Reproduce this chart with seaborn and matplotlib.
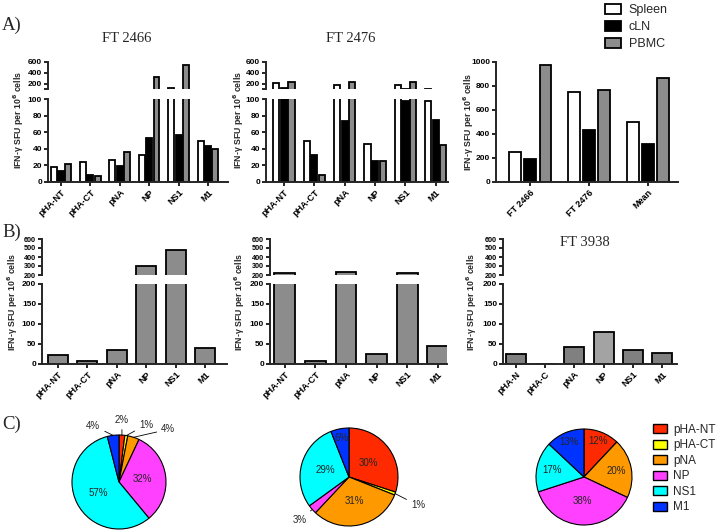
import numpy as np
import pandas as pd
import matplotlib
matplotlib.use('Agg')
import matplotlib.pyplot as plt
import seaborn as sns
from matplotlib.patches import Patch

# ---- data ----
antigens = ['pHA-NT', 'pHA-CT', 'pNA', 'NP', 'NS1', 'M1']
tissues = ['Spleen', 'cLN', 'PBMC']

# A) FT 2466
ft2466_spleen = [18, 24, 26, 32, 110, 50]
ft2466_cln = [13, 8, 19, 53, 57, 43]
ft2466_pbmc = [22, 7, 36, 330, 550, 40]

# A) FT 2476
ft2476_spleen = [210, 49, 180, 46, 180, 98]
ft2476_cln = [120, 32, 73, 25, 98, 75]
ft2476_pbmc = [230, 8, 230, 25, 230, 45]

# A) totals
summary_groups = ['FT 2466', 'FT 2476', 'Mean']
summary_spleen = [250, 750, 500]
summary_cln = [195, 435, 315]
summary_pbmc = [975, 765, 870]

# B) PBMC only
b1_pbmc = [22, 7, 36, 300, 480, 40]
b2_pbmc = [225, 8, 235, 25, 220, 45]
ft3938_antigens = ['pHA-N', 'pHA-C', 'pNA', 'NP', 'NS1', 'M1']
ft3938_pbmc = [24, 0, 43, 80, 36, 27]

# C) pie percentages
pie1_pct = [2, 1, 4, 32, 57, 4]
pie2_pct = [30, 1, 31, 3, 29, 6]
pie3_pct = [12, 0, 20, 38, 17, 13]

tissue_colors = ['white', 'black', '#8c8c8c']
pie_colors = ['#ff2a00', '#ffff00', '#ff9900', '#ff40ff', '#00ffff', '#0033ff']

sns.set_style('ticks')
plt.rcParams['font.family'] = ['Liberation Sans', 'DejaVu Sans']
plt.rcParams['mathtext.default'] = 'bf'

W, H = 720, 530
fig = plt.figure(figsize=(7.2, 5.3), dpi=100)
YLABEL = 'IFN-γ SFU per 10$^{6}$ cells'
SERIF = 'Liberation Serif'


def add_px_axes(x0, y0, x1, y1):
    return fig.add_axes([x0 / W, (H - y1) / H, (x1 - x0) / W, (y1 - y0) / H])


def style_axis(ax, bottom=True):
    sns.despine(ax=ax, bottom=not bottom)
    for s in ['left', 'bottom']:
        ax.spines[s].set_linewidth(1.4)
    ax.tick_params(axis='both', direction='out', length=3, width=1.2, pad=1.2,
                   colors='black')
    ax.set_xlabel('')
    ax.set_ylabel('')
    ax.set_facecolor('none')


def long_df(values, cats):
    return pd.DataFrame({
        'antigen': cats * 3,
        'tissue': np.repeat(tissues, len(cats)),
        'sfu': list(values[0]) + list(values[1]) + list(values[2]),
    })


def grouped_plot(df, cats, width, gap):
    def _plot(ax):
        sns.barplot(data=df, x='antigen', y='sfu', hue='tissue', order=cats,
                    hue_order=tissues, palette=tissue_colors, width=width, gap=gap,
                    edgecolor='black', linewidth=1.3, errorbar=None, legend=False,
                    ax=ax)
    return _plot


def single_plot(df, cats, colors, width):
    def _plot(ax):
        sns.barplot(data=df, x='antigen', y='sfu', hue='antigen', order=cats,
                    hue_order=cats, palette=colors, width=width,
                    edgecolor='black', linewidth=1.3, errorbar=None, legend=False,
                    ax=ax)
    return _plot


def set_xcats(ax, labels, xlim):
    ax.set_xlim(xlim)
    ax.set_xticks(range(len(labels)), labels, rotation=45, ha='right',
                  rotation_mode='anchor', fontsize=6.5, fontweight='bold')


def broken_panel(xs, hi_box, lo_box, plot, lo_lim, lo_ticks, hi_lim, hi_ticks,
                 xlim, labels, hi_size=6, hide_first=True):
    ax_hi = add_px_axes(xs[0], hi_box[0], xs[1], hi_box[1])
    ax_lo = add_px_axes(xs[0], lo_box[0], xs[1], lo_box[1])
    plot(ax_hi)
    plot(ax_lo)
    style_axis(ax_hi, bottom=False)
    style_axis(ax_lo)
    hi_labels = [str(t) for t in hi_ticks]
    if hide_first:
        hi_labels[0] = ''
    ax_hi.set_ylim(hi_lim)
    ax_hi.set_yticks(hi_ticks, hi_labels, fontsize=hi_size, fontweight='bold')
    ax_hi.set_xlim(xlim)
    ax_hi.set_xticks([])
    ax_lo.set_ylim(lo_lim)
    ax_lo.set_yticks(lo_ticks, [str(t) for t in lo_ticks], fontsize=6,
                     fontweight='bold')
    set_xcats(ax_lo, labels, xlim)
    return ax_hi, ax_lo


# ---------------- row A ----------------
df_2466 = long_df([ft2466_spleen, ft2466_cln, ft2466_pbmc], antigens)
df_2476 = long_df([ft2476_spleen, ft2476_cln, ft2476_pbmc], antigens)

broken_panel((48, 228), (62, 89), (99, 182), grouped_plot(df_2466, antigens, 0.75, 0.2),
             (0, 100), [0, 20, 40, 60, 80, 100], (100, 600), [100, 200, 400, 600],
             (-0.44, 5.68), antigens)
broken_panel((266, 448), (62, 89), (99, 182), grouped_plot(df_2476, antigens, 0.75, 0.2),
             (0, 100), [0, 20, 40, 60, 80, 100], (100, 600), [100, 200, 400, 600],
             (-0.59, 5.4), antigens)

df_sum = long_df([summary_spleen, summary_cln, summary_pbmc], summary_groups)
ax_sum = add_px_axes(496, 62, 678, 182)
grouped_plot(df_sum, summary_groups, 0.78, 0.22)(ax_sum)
style_axis(ax_sum)
ax_sum.set_ylim(0, 1000)
ax_sum.set_yticks(range(0, 1001, 200), [str(t) for t in range(0, 1001, 200)],
                  fontsize=6, fontweight='bold')
set_xcats(ax_sum, summary_groups, (-0.58, 2.51))

fig.legend(handles=[Patch(facecolor=c, edgecolor='black', linewidth=1.3, label=t)
                    for c, t in zip(tissue_colors, tissues)],
           loc='upper left', bbox_to_anchor=(600 / W, 1 + 1 / H), frameon=False,
           fontsize=9, handlelength=1.3, handleheight=0.9, labelspacing=0.35,
           handletextpad=0.6, borderaxespad=0)

# ---------------- row B ----------------
b_lo = [0, 50, 100, 150, 200]
b_hi = [200, 300, 400, 500, 600]
gray = '#8c8c8c'
df_b1 = pd.DataFrame({'antigen': antigens, 'sfu': b1_pbmc})
df_b2 = pd.DataFrame({'antigen': antigens, 'sfu': b2_pbmc})
df_b3 = pd.DataFrame({'antigen': ft3938_antigens, 'sfu': ft3938_pbmc})
b3_colors = ['#808080', '#808080', '#808080', '#a3a3a3', '#808080', '#808080']

broken_panel((42, 227), (239, 275), (284, 364), single_plot(df_b1, antigens, [gray] * 6, 0.68),
             (0, 200), b_lo, (200, 600), b_hi, (-0.54, 5.75), antigens,
             hi_size=5.2, hide_first=False)
broken_panel((270, 447), (239, 275), (284, 364), single_plot(df_b2, antigens, [gray] * 6, 0.68),
             (0, 200), b_lo, (200, 600), b_hi, (-0.48, 5.3), antigens,
             hi_size=5.2, hide_first=False)
broken_panel((503, 677), (239, 275), (284, 364),
             single_plot(df_b3, ft3938_antigens, b3_colors, 0.68),
             (0, 200), b_lo, (200, 600), b_hi, (-0.43, 5.5), ft3938_antigens,
             hi_size=5.2, hide_first=False)

# titles, panel letters, y labels
fig.text(127 / W, 1 - 39 / H, 'FT 2466', family=SERIF, fontsize=10.5, ha='center', va='center')
fig.text(351 / W, 1 - 39 / H, 'FT 2476', family=SERIF, fontsize=10.5, ha='center', va='center')
fig.text(585 / W, 1 - 242 / H, 'FT 3938', family=SERIF, fontsize=10.5, ha='center', va='center')
for lab, y in [('A)', 25), ('B)', 232), ('C)', 424)]:
    fig.text(2 / W, 1 - y / H, lab, family=SERIF, fontsize=13.5, ha='left', va='center')
for x, y in [(19, 120), (239, 120), (469, 122), (13, 302), (240, 302), (472, 302)]:
    fig.text(x / W, 1 - y / H, YLABEL, rotation=90, fontsize=6.3, fontweight='bold',
             ha='center', va='center')

# ---------------- row C ----------------


def draw_pie(cx, cy, r, pct, outside):
    ax = add_px_axes(cx - r, cy - r, cx + r, cy + r)
    wedges, _ = ax.pie(pct, colors=pie_colors, startangle=90, counterclock=False,
                       wedgeprops=dict(edgecolor='black', linewidth=0.8))
    ax.set_xlim(-1, 1)
    ax.set_ylim(-1, 1)
    ax.set_aspect('auto')
    for i, (w, p) in enumerate(zip(wedges, pct)):
        if p == 0:
            continue
        ang = np.deg2rad((w.theta1 + w.theta2) / 2)
        if i in outside:
            ax.annotate(f'{p}%', xy=(np.cos(ang), np.sin(ang)), xytext=outside[i],
                        ha='center', va='center', fontsize=7, annotation_clip=False,
                        arrowprops=dict(arrowstyle='-', color='black', lw=0.6,
                                        shrinkA=1, shrinkB=0))
        else:
            rr = 0.5 if p >= 25 else (0.68 if p >= 15 else 0.8)
            ax.text(rr * np.cos(ang), rr * np.sin(ang), f'{p}%', ha='center',
                    va='center', fontsize=7)


draw_pie(119, 482, 47, pie1_pct,
         {0: (0.06, 1.32), 1: (0.58, 1.22), 2: (1.05, 1.12), 5: (-0.55, 1.2)})
draw_pie(349, 477, 49, pie2_pct, {1: (1.41, -0.58), 3: (-1.0, -0.88)})
draw_pie(584, 477, 48, pie3_pct, {})

fig.legend(handles=[Patch(facecolor=c, edgecolor='black', linewidth=1.0, label=a)
                    for c, a in zip(pie_colors, antigens)],
           loc='upper left', bbox_to_anchor=(648 / W, 1 - 419 / H), frameon=False,
           fontsize=8.5, handlelength=1.2, handleheight=0.8, labelspacing=0.3,
           handletextpad=0.5, borderaxespad=0)

fig.savefig('out.png', dpi=100)
